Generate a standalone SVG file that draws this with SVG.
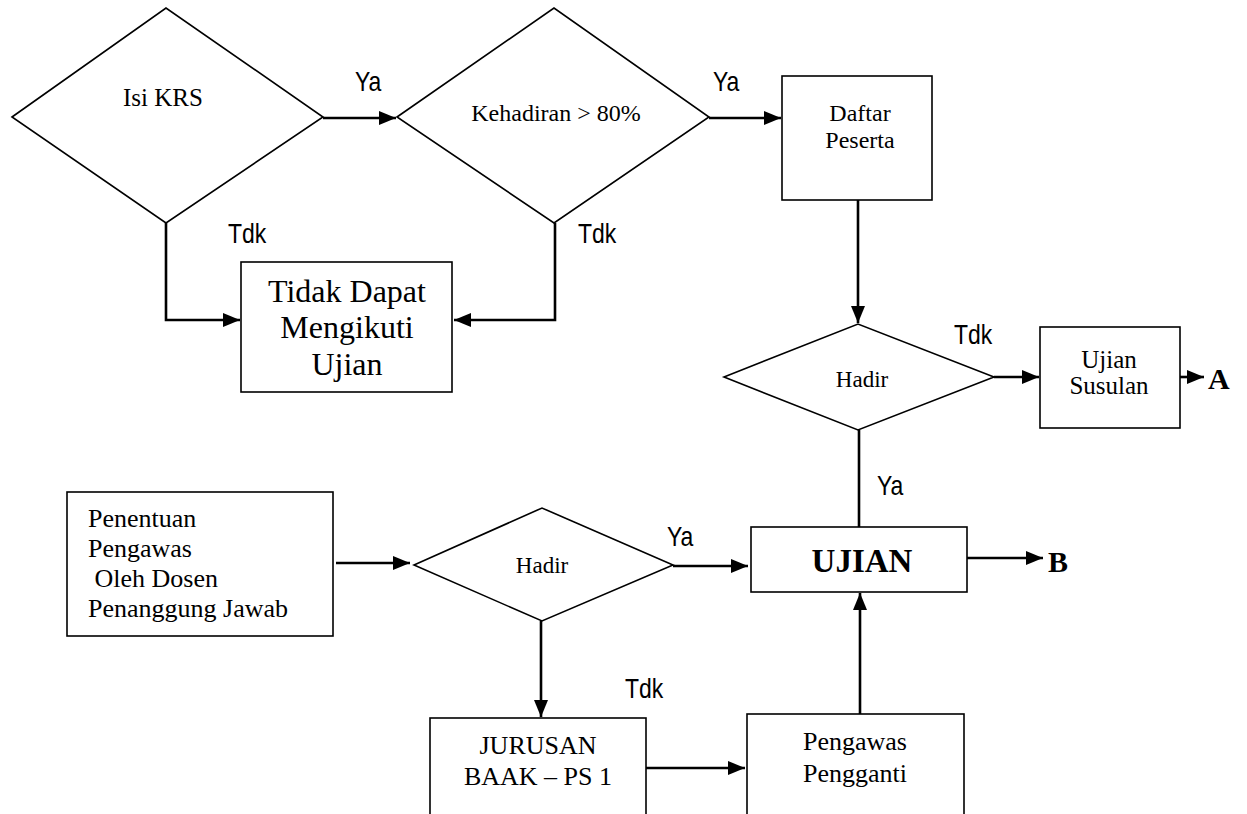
<svg xmlns="http://www.w3.org/2000/svg" width="1247" height="814" viewBox="0 0 1247 814">
  <defs>
    <marker id="arrow" markerUnits="userSpaceOnUse" markerWidth="18" markerHeight="14" refX="17" refY="7" orient="auto">
      <path d="M0,0 L17,7 L0,14 z" fill="#000"/>
    </marker>
    <style>
      .shape { fill: #fff; stroke: #000; stroke-width: 1.6; }
      .conn { fill: none; stroke: #000; stroke-width: 2.6; }
      .arr { marker-end: url(#arrow); }
      .t { font-family: "Liberation Serif", "Times New Roman", serif; fill: #000; text-anchor: middle; }
      .ts { font-family: "Liberation Serif", "Times New Roman", serif; fill: #000; text-anchor: start; font-size: 26px; }
      .lbl { font-family: "Liberation Sans", Arial, sans-serif; font-size: 28px; fill: #000; }
      .bold { font-family: "Liberation Serif", "Times New Roman", serif; font-weight: bold; fill: #000; }
    </style>
  </defs>
  <rect width="1247" height="814" fill="#fff"/>

  <!-- connectors -->
  <g id="connectors">
    <path class="conn arr" d="M323,118 L396,118"/>
    <path class="conn arr" d="M709,118 L781,118"/>
    <path class="conn arr" d="M858,200 L858,323"/>
    <path class="conn arr" d="M166,223 L166,320 L240,320"/>
    <path class="conn arr" d="M555,223 L555,320 L454,320"/>
    <path class="conn arr" d="M994,377 L1039,377"/>
    <path class="conn arr" d="M1180,377 L1204,377"/>
    <path class="conn" d="M859,430 L859,527"/>
    <path class="conn arr" d="M336,563 L410,563"/>
    <path class="conn arr" d="M673,566 L748,566"/>
    <path class="conn arr" d="M967,558 L1043,558"/>
    <path class="conn arr" d="M541,621 L541,717"/>
    <path class="conn arr" d="M646,768 L745,768"/>
    <path class="conn arr" d="M860,714 L860,593"/>
  </g>

  <!-- edge labels (condensed sans) -->
  <g id="labels">
    <text class="lbl" transform="translate(355,91) scale(0.82,1)">Ya</text>
    <text class="lbl" transform="translate(713,91) scale(0.82,1)">Ya</text>
    <text class="lbl" transform="translate(228,243) scale(0.82,1)">Tdk</text>
    <text class="lbl" transform="translate(578,243) scale(0.82,1)">Tdk</text>
    <text class="lbl" transform="translate(954,344) scale(0.82,1)">Tdk</text>
    <text class="lbl" transform="translate(877,495) scale(0.82,1)">Ya</text>
    <text class="lbl" transform="translate(667,546) scale(0.82,1)">Ya</text>
    <text class="lbl" transform="translate(625,698) scale(0.82,1)">Tdk</text>
  </g>

  <g id="isi-krs">
    <polygon class="shape" points="12,117 166,8 323,117 166,223"/>
    <text class="t" x="163" y="106" font-size="25">Isi KRS</text>
  </g>

  <g id="kehadiran">
    <polygon class="shape" points="397,117 554,8 709,117 554,223"/>
    <text class="t" x="556" y="121" font-size="24">Kehadiran &gt; 80%</text>
  </g>

  <g id="daftar-peserta">
    <rect class="shape" x="782" y="76" width="150" height="124"/>
    <text class="t" x="860" y="121" font-size="24">Daftar</text>
    <text class="t" x="860" y="148" font-size="24">Peserta</text>
  </g>

  <g id="tidak-dapat">
    <rect class="shape" x="241" y="262" width="211" height="130"/>
    <text class="t" x="347" y="302" font-size="32">Tidak Dapat</text>
    <text class="t" x="347" y="338" font-size="32">Mengikuti</text>
    <text class="t" x="347" y="375" font-size="32">Ujian</text>
  </g>

  <g id="hadir-peserta">
    <polygon class="shape" points="724,377 858,324 994,377 858,430"/>
    <text class="t" x="862" y="387" font-size="23">Hadir</text>
  </g>

  <g id="ujian-susulan">
    <rect class="shape" x="1040" y="327" width="140" height="101"/>
    <text class="t" x="1109" y="368" font-size="25">Ujian</text>
    <text class="t" x="1109" y="394" font-size="25">Susulan</text>
  </g>

  <g id="connector-a">
    <text class="bold" x="1208" y="389" font-size="30">A</text>
  </g>

  <g id="penentuan-pengawas">
    <rect class="shape" x="67" y="492" width="266" height="144"/>
    <text class="ts" x="88" y="527">Penentuan</text>
    <text class="ts" x="88" y="557">Pengawas</text>
    <text class="ts" x="88" y="587" xml:space="preserve"> Oleh Dosen</text>
    <text class="ts" x="88" y="617">Penanggung Jawab</text>
  </g>

  <g id="hadir-pengawas">
    <polygon class="shape" points="414,565 542,508 673,565 542,621"/>
    <text class="t" x="542" y="573" font-size="23">Hadir</text>
  </g>

  <g id="ujian">
    <rect class="shape" x="751" y="527" width="216" height="65"/>
    <text class="bold" x="862" y="572" font-size="33" text-anchor="middle">UJIAN</text>
  </g>

  <g id="connector-b">
    <text class="bold" x="1048" y="572" font-size="30">B</text>
  </g>

  <g id="jurusan-baak">
    <rect class="shape" x="430" y="718" width="216" height="110"/>
    <text class="t" x="538" y="754" font-size="26">JURUSAN</text>
    <text class="t" x="538" y="785" font-size="26">BAAK – PS 1</text>
  </g>

  <g id="pengawas-pengganti">
    <rect class="shape" x="747" y="714" width="217" height="114"/>
    <text class="t" x="855" y="750" font-size="26">Pengawas</text>
    <text class="t" x="855" y="782" font-size="26">Pengganti</text>
  </g>
</svg>
